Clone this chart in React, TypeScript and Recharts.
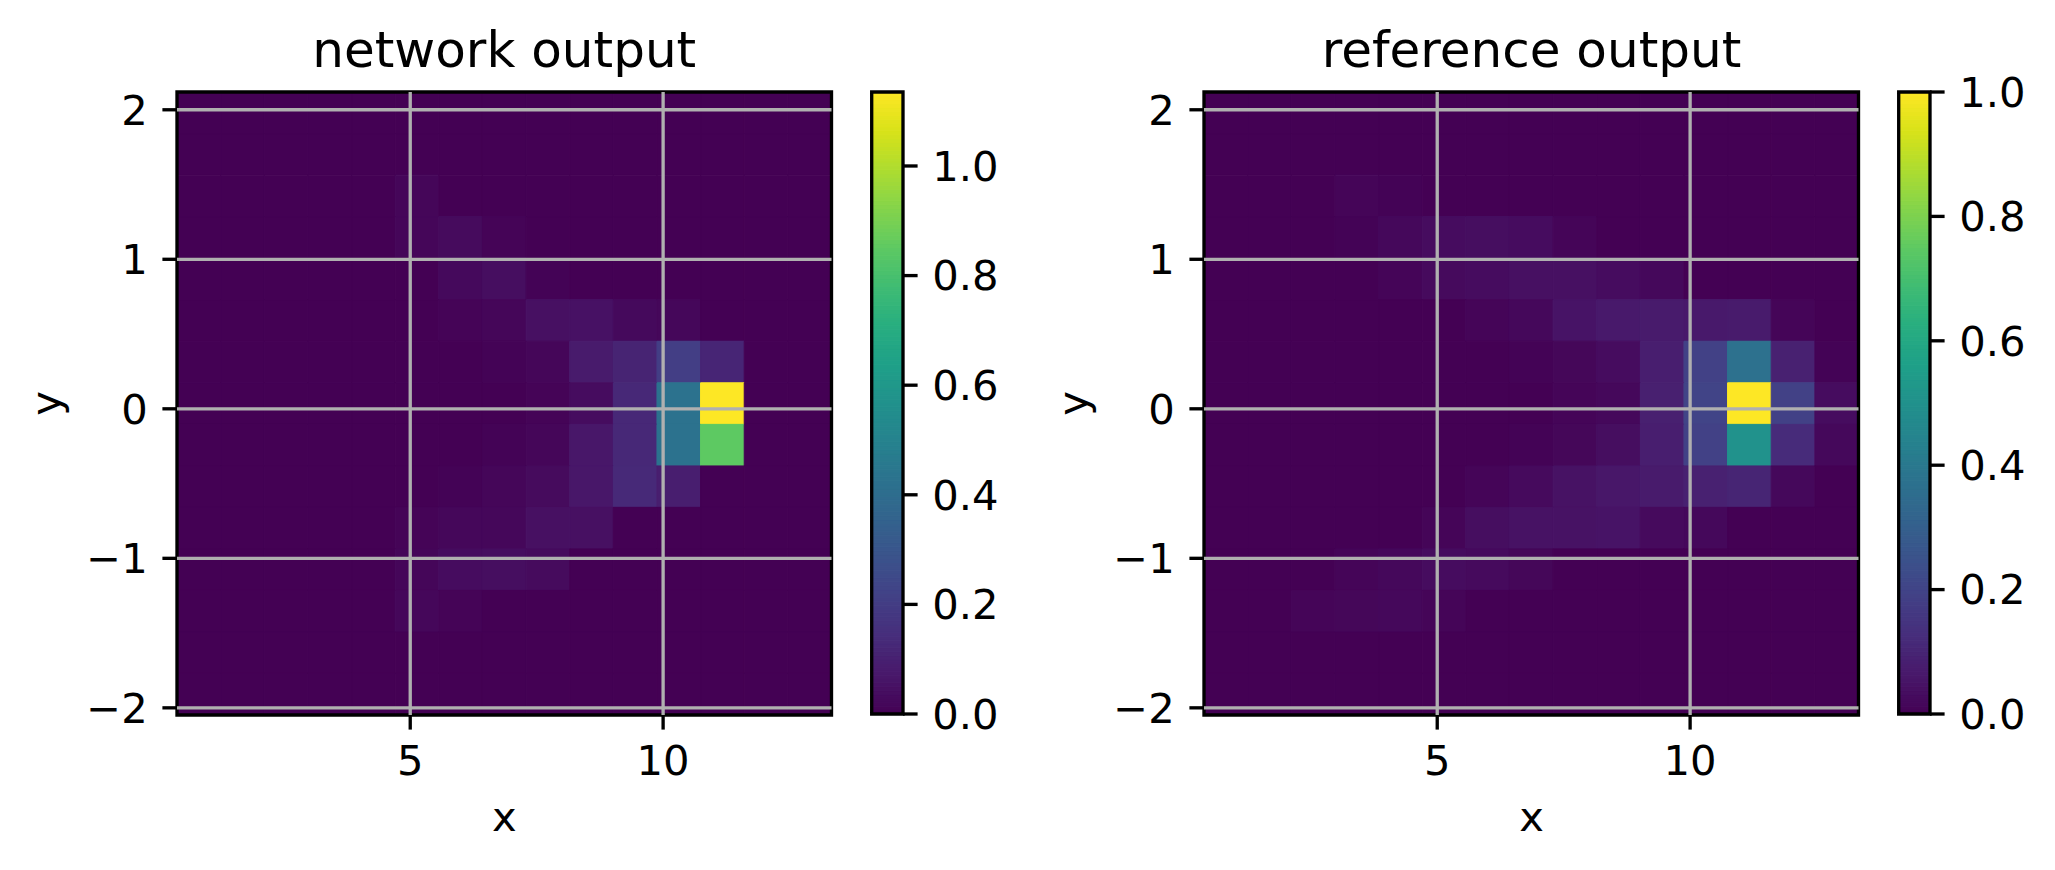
import React from 'react';
import { ComposedChart, XAxis, YAxis, ReferenceArea, ReferenceLine } from 'recharts';

// ---------- data ----------
const xCenters = [0.82, 1.683, 2.546, 3.408, 4.271, 5.134, 5.996, 6.859, 7.722, 8.584, 9.447, 10.31, 11.172, 12.035, 12.898];
// rows from top to bottom
const yCenters = [1.98, 1.702, 1.424, 1.147, 0.869, 0.591, 0.313, 0.035, -0.243, -0.521, -0.798, -1.076, -1.354, -1.632, -1.909];

const xTicks = [5, 10];
const yTicks = [-2, -1, 0, 1, 2];

const networkOutput = [
  [0, 0, 0, 0, 0, 0, 0, 0, 0, 0, 0, 0, 0, 0, 0],
  [0, 0, 0, 0, 0, 0, 0, 0, 0, 0, 0, 0, 0, 0, 0],
  [0, 0, 0, 0, 0, 0.015, 0, 0, 0, 0, 0, 0, 0, 0, 0],
  [0, 0, 0, 0, 0, 0.015, 0.03, 0.01, 0, 0, 0, 0, 0, 0, 0],
  [0, 0, 0, 0, 0, 0, 0.025, 0.04, 0.005, 0, 0, 0, 0, 0, 0],
  [0, 0, 0, 0, 0, 0, 0.01, 0.015, 0.045, 0.05, 0.025, 0.02, 0, 0, 0],
  [0, 0, 0, 0, 0, 0, 0, 0.005, 0.015, 0.08, 0.11, 0.205, 0.115, 0, 0],
  [0, 0, 0, 0, 0, 0, 0, 0, 0.01, 0.035, 0.125, 0.425, 1.135, 0, 0],
  [0, 0, 0, 0, 0, 0, 0, 0.005, 0.015, 0.068, 0.125, 0.425, 0.85, 0, 0],
  [0, 0, 0, 0, 0, 0, 0.005, 0.015, 0.03, 0.068, 0.13, 0.09, 0, 0, 0],
  [0, 0, 0, 0, 0, 0.01, 0.02, 0.02, 0.045, 0.045, 0, 0, 0, 0, 0],
  [0, 0, 0, 0, 0, 0.015, 0.035, 0.04, 0.03, 0, 0, 0, 0, 0, 0],
  [0, 0, 0, 0, 0, 0.02, 0.01, 0, 0, 0, 0, 0, 0, 0, 0],
  [0, 0, 0, 0, 0, 0, 0, 0, 0, 0, 0, 0, 0, 0, 0],
  [0, 0, 0, 0, 0, 0, 0, 0, 0, 0, 0, 0, 0, 0, 0],
];

const referenceOutput = [
  [0, 0, 0, 0, 0, 0, 0, 0, 0, 0, 0, 0, 0, 0, 0],
  [0, 0, 0, 0, 0, 0, 0, 0, 0, 0, 0, 0, 0, 0, 0],
  [0, 0, 0, 0.01, 0.005, 0, 0, 0, 0, 0, 0, 0, 0, 0, 0],
  [0, 0, 0, 0.005, 0.02, 0.03, 0.035, 0.03, 0.01, 0, 0, 0, 0, 0, 0],
  [0, 0, 0, 0, 0.01, 0.025, 0.03, 0.04, 0.04, 0.03, 0.02, 0, 0, 0, 0],
  [0, 0, 0, 0, 0, 0, 0.01, 0.02, 0.05, 0.065, 0.07, 0.065, 0.07, 0.01, 0],
  [0, 0, 0, 0, 0, 0, 0, 0.005, 0.015, 0.03, 0.08, 0.19, 0.37, 0.09, 0.005],
  [0, 0, 0, 0, 0, 0, 0, 0, 0.01, 0.02, 0.085, 0.2, 1.0, 0.19, 0.03],
  [0, 0, 0, 0, 0, 0, 0, 0.005, 0.015, 0.035, 0.08, 0.19, 0.505, 0.12, 0.02],
  [0, 0, 0, 0, 0, 0, 0.01, 0.025, 0.045, 0.06, 0.07, 0.09, 0.1, 0.02, 0],
  [0, 0, 0, 0, 0, 0.01, 0.035, 0.045, 0.045, 0.05, 0.025, 0.02, 0, 0, 0],
  [0, 0, 0, 0.01, 0.02, 0.03, 0.025, 0.015, 0, 0, 0, 0, 0, 0, 0],
  [0, 0, 0.01, 0.015, 0.02, 0.01, 0, 0, 0, 0, 0, 0, 0, 0, 0],
  [0, 0, 0, 0, 0, 0, 0, 0, 0, 0, 0, 0, 0, 0, 0],
  [0, 0, 0, 0, 0, 0, 0, 0, 0, 0, 0, 0, 0, 0, 0],
];

const networkVmax = 1.135;
const referenceVmax = 1.0;
const colorbarTicks = [0, 0.2, 0.4, 0.6, 0.8, 1.0];

// ---------- style ----------
const FONT = 'DejaVu Sans';
const TICK_FS = 41.7;
const TITLE_FS = 50;
const LW = 3.33;
const TICK_LEN = 14.6;

const VIRIDIS = ['#440154', '#48186a', '#472d7b', '#424086', '#3b528b', '#33638d', '#2c728e', '#26828e', '#21918c', '#1fa088', '#28ae80', '#3fbc73', '#5ec962', '#84d44b', '#addc30', '#d8e219', '#fde725'];

function hexToRgb(h: string) {
  return [parseInt(h.slice(1, 3), 16), parseInt(h.slice(3, 5), 16), parseInt(h.slice(5, 7), 16)];
}
function viridis(t: number) {
  const c = Math.max(0, Math.min(1, t));
  const pos = c * (VIRIDIS.length - 1);
  const i = Math.min(VIRIDIS.length - 2, Math.floor(pos));
  const f = pos - i;
  const a = hexToRgb(VIRIDIS[i]);
  const b = hexToRgb(VIRIDIS[i + 1]);
  const r = a.map((v, k) => Math.round(v + (b[k] - v) * f));
  return `rgb(${r[0]},${r[1]},${r[2]})`;
}

const dx = (xCenters[xCenters.length - 1] - xCenters[0]) / (xCenters.length - 1);
const dy = (yCenters[0] - yCenters[yCenters.length - 1]) / (yCenters.length - 1);
const xMin = xCenters[0] - dx / 2;
const xMax = xCenters[xCenters.length - 1] + dx / 2;
const yMax = yCenters[0] + dy / 2;
const yMin = yCenters[yCenters.length - 1] - dy / 2;

const fmtMinus = (v: number) => String(v).replace('-', '\u2212');
const tickStyle = { fill: '#000', fontSize: TICK_FS, fontFamily: FONT };
const tickLineStyle = { stroke: '#000', strokeWidth: LW };

function Heatmap({ matrix, vmax }: { matrix: number[][]; vmax: number }) {
  const cells: any[] = [];
  matrix.forEach((row, ri) => {
    row.forEach((v, ci) => {
      const col = viridis(v / vmax);
      cells.push(
        <ReferenceArea
          key={`c${ri}-${ci}`}
          x1={xCenters[ci] - dx / 2}
          x2={xCenters[ci] + dx / 2}
          y1={yCenters[ri] - dy / 2}
          y2={yCenters[ri] + dy / 2}
          fill={col}
          fillOpacity={1}
          stroke={col}
          strokeWidth={1}
          ifOverflow="visible"
        />
      );
    });
  });
  return (
    <ComposedChart width={860} height={870} margin={{ top: 92, right: 28.5, bottom: 0, left: 0 }}>
      <XAxis
        type="number"
        dataKey="x"
        domain={[xMin, xMax]}
        ticks={xTicks}
        allowDataOverflow
        interval={0}
        height={155}
        axisLine={false}
        tickLine={tickLineStyle}
        tickSize={TICK_LEN}
        tickMargin={16}
        tick={tickStyle}
      />
      <YAxis
        type="number"
        dataKey="y"
        domain={[yMin, yMax]}
        ticks={yTicks}
        allowDataOverflow
        interval={0}
        width={177}
        axisLine={false}
        tickLine={tickLineStyle}
        tickSize={TICK_LEN}
        tickMargin={TICK_LEN}
        tick={tickStyle}
        tickFormatter={fmtMinus}
      />
      {cells}
      {xTicks.map((v) => (
        <ReferenceLine key={`gx${v}`} x={v} stroke="#b0b0b0" strokeWidth={LW} ifOverflow="visible" />
      ))}
      {yTicks.map((v) => (
        <ReferenceLine key={`gy${v}`} y={v} stroke="#b0b0b0" strokeWidth={LW} ifOverflow="visible" />
      ))}
      <ReferenceArea x1={xMin} x2={xMax} y1={yMin} y2={yMax} fill="none" fillOpacity={0} stroke="#000" strokeWidth={LW} ifOverflow="visible" />
    </ComposedChart>
  );
}

function Colorbar({ vmax }: { vmax: number }) {
  const N = 160;
  const slices: any[] = [];
  for (let i = 0; i < N; i++) {
    const col = viridis((i + 0.5) / N);
    slices.push(
      <ReferenceArea
        key={`s${i}`}
        x1={0}
        x2={1}
        y1={(vmax * i) / N}
        y2={(vmax * (i + 1)) / N}
        fill={col}
        fillOpacity={1}
        stroke={col}
        strokeWidth={1}
        ifOverflow="visible"
      />
    );
  }
  return (
    <ComposedChart width={180} height={870} margin={{ top: 92, right: 0, bottom: 156, left: 11.7 }}>
      <XAxis type="number" dataKey="x" domain={[0, 1]} hide height={0} allowDataOverflow />
      <YAxis
        type="number"
        dataKey="y"
        orientation="right"
        domain={[0, vmax]}
        ticks={colorbarTicks}
        allowDataOverflow
        interval={0}
        width={180 - 11.7 - 31.3}
        axisLine={false}
        tickLine={tickLineStyle}
        tickSize={TICK_LEN}
        tickMargin={TICK_LEN}
        tick={tickStyle}
        tickFormatter={(v: number) => v.toFixed(1)}
      />
      {slices}
      <ReferenceArea x1={0} x2={1} y1={0} y2={vmax} fill="none" fillOpacity={0} stroke="#000" strokeWidth={LW} ifOverflow="visible" />
    </ComposedChart>
  );
}

export default function App() {
  const abs = (left: number): React.CSSProperties => ({ position: 'absolute', left, top: 0 });
  return (
    <div style={{ position: 'absolute', left: 0, top: 0, width: 2055, height: 870, background: '#fff', overflow: 'hidden' }}>
      <div style={abs(0)}>
        <Heatmap matrix={networkOutput} vmax={networkVmax} />
      </div>
      <div style={abs(860)}>
        <Colorbar vmax={networkVmax} />
      </div>
      <div style={abs(1027.3)}>
        <Heatmap matrix={referenceOutput} vmax={referenceVmax} />
      </div>
      <div style={abs(1886.6)}>
        <Colorbar vmax={referenceVmax} />
      </div>
      <svg width={2055} height={870} style={{ position: 'absolute', left: 0, top: 0, pointerEvents: 'none' }}>
        <g fontFamily={FONT} fill="#000">
          <text x={504.25} y={67} fontSize={TITLE_FS} textAnchor="middle">network output</text>
          <text x={1531.5} y={67} fontSize={TITLE_FS} textAnchor="middle">reference output</text>
          <text x={504.25} y={831} fontSize={TICK_FS} textAnchor="middle">x</text>
          <text x={1531.5} y={831} fontSize={TICK_FS} textAnchor="middle">x</text>
          <text x={60} y={403.5} fontSize={TICK_FS} textAnchor="middle" transform="rotate(-90 60 403.5)">y</text>
          <text x={1087.3} y={403.5} fontSize={TICK_FS} textAnchor="middle" transform="rotate(-90 1087.3 403.5)">y</text>
        </g>
      </svg>
    </div>
  );
}
